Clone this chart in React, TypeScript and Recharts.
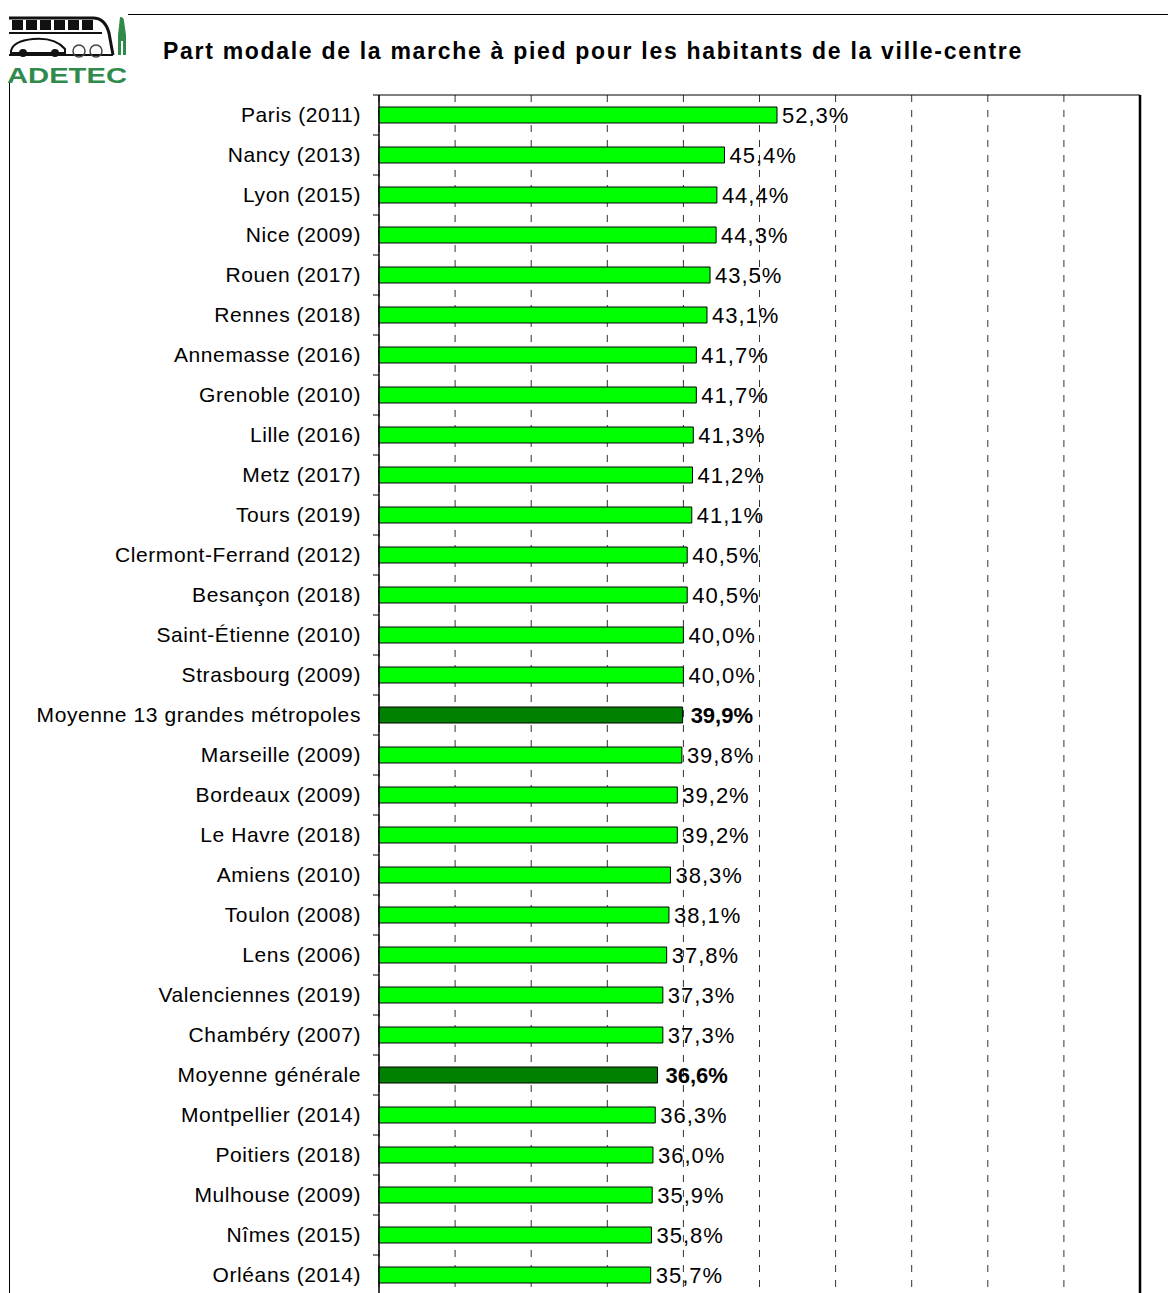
import React from 'react';
import { BarChart, Bar, XAxis, YAxis, CartesianGrid, Cell, ReferenceArea, ReferenceLine } from 'recharts';

// Villes et parts modales (%)
const villes = [
    'Paris (2011)', 'Nancy (2013)', 'Lyon (2015)', 'Nice (2009)', 'Rouen (2017)', 'Rennes (2018)',
    'Annemasse (2016)', 'Grenoble (2010)', 'Lille (2016)', 'Metz (2017)', 'Tours (2019)',
    'Clermont-Ferrand (2012)', 'Besançon (2018)', 'Saint-Étienne (2010)', 'Strasbourg (2009)',
    'Moyenne 13 grandes métropoles', 'Marseille (2009)', 'Bordeaux (2009)', 'Le Havre (2018)',
    'Amiens (2010)', 'Toulon (2008)', 'Lens (2006)', 'Valenciennes (2019)', 'Chambéry (2007)',
    'Moyenne générale', 'Montpellier (2014)', 'Poitiers (2018)', 'Mulhouse (2009)', 'Nîmes (2015)',
    'Orléans (2014)',
];
const parts = [
    52.3, 45.4, 44.4, 44.3, 43.5, 43.1, 41.7, 41.7, 41.3, 41.2, 41.1, 40.5, 40.5, 40.0, 40.0,
    39.9, 39.8, 39.2, 39.2, 38.3, 38.1, 37.8, 37.3, 37.3, 36.6, 36.3, 36.0, 35.9, 35.8, 35.7,
];
const moyennes = ['Moyenne 13 grandes métropoles', 'Moyenne générale'];
const xTicks = [0, 10, 20, 30, 40, 50, 60, 70, 80, 90, 100];

const data = villes.map((ville, i) => ({ ville, part: parts[i] }));

const font = '"Liberation Sans", Arial, sans-serif';

const formatPct = (v: number) => v.toFixed(1).replace('.', ',') + '%';

// label at the centre of the band, tick mark on the band boundary above
const VilleTick = (props: any) => {
    const { x, y, payload } = props;
    return (
        <g>
            <line x1={x + 12} x2={x + 18} y1={y - 20} y2={y - 20} stroke="#000" strokeWidth={1} />
            <text x={x} y={y} dy={7} textAnchor="end" fontSize={21} fontFamily={font} fill="#000" letterSpacing={0.6}>
                {payload.value}
            </text>
        </g>
    );
};

const ValueLabel = (props: any) => {
    const { x, y, width, height, value, index } = props;
    const bold = moyennes.includes(villes[index]);
    return (
        <text x={x + width + (bold ? 8 : 5)} y={y + height / 2} dy={8} fontSize={22} fontFamily={font}
            fontWeight={bold ? 'bold' : 'normal'} fill="#000" letterSpacing={bold ? 0 : 1}>
            {formatPct(value)}
        </text>
    );
};

const Logo = () => (
    <svg width={122} height={72} viewBox="0 0 122 72" style={{ overflow: 'visible' }}>
        <path d="M2 5 H86 Q98 5 102 20 L106 42" fill="none" stroke="#111" strokeWidth={3} />
        <line x1={2} y1={42} x2={106} y2={42} stroke="#111" strokeWidth={2} />
        {[5, 19, 33, 47, 61, 75].map((wx) => (
            <rect key={wx} x={wx} y={7} width={11} height={10} fill="#111" />
        ))}
        <line x1={2} y1={20} x2={95} y2={20} stroke="#111" strokeWidth={2} />
        <path d="M4 38 Q6 28 26 26 Q48 24 58 36 L58 40 H4 Z" fill="#fff" stroke="#111" strokeWidth={2} />
        <circle cx={16} cy={40} r={4} fill="#111" />
        <circle cx={48} cy={40} r={4} fill="#111" />
        <circle cx={72} cy={38} r={6} fill="none" stroke="#444" strokeWidth={1.5} />
        <circle cx={89} cy={38} r={6} fill="none" stroke="#444" strokeWidth={1.5} />
        <path d="M113 4 q4 0 4 4 l2 14 v20 h-3 v-14 h-2 v14 h-3 v-20 z" fill="#2f8a4c" />
        <text x={0} y={70} fontSize={22} fontWeight="bold" fontFamily={font} fill="#2f8a4c"
            textLength={120} lengthAdjust="spacingAndGlyphs">ADETEC</text>
    </svg>
);

const App: React.FC = () => {
    return (
        <div style={{ position: 'absolute', left: 0, top: 0, width: 1168, height: 1293, overflow: 'hidden', background: '#fff', fontFamily: font }}>
            <div style={{ position: 'absolute', left: 7, top: 13 }}>
                <Logo />
            </div>
            <div style={{ position: 'absolute', left: 128, top: 14, width: 1040, height: 1, background: '#000' }} />
            <div style={{ position: 'absolute', left: 9, top: 83, width: 1, height: 1210, background: '#000' }} />
            <div style={{ position: 'absolute', left: 163, top: 38, fontSize: 23, fontWeight: 'bold', color: '#000', whiteSpace: 'nowrap', letterSpacing: 1.7 }}>
                Part modale de la marche à pied pour les habitants de la ville-centre
            </div>
            <div style={{ position: 'absolute', left: 0, top: 0 }}>
                <BarChart width={1168} height={1300} data={data} layout="vertical"
                    margin={{ top: 95, right: 28, bottom: 5, left: 9 }} barCategoryGap={0}>
                    <CartesianGrid horizontal={false} strokeDasharray="7 8" stroke="#333" />
                    <XAxis type="number" domain={[0, 100]} ticks={xTicks} hide />
                    <YAxis type="category" dataKey="ville" width={370} interval={0} tickSize={0} tickMargin={18}
                        axisLine={{ stroke: '#000' }} tick={<VilleTick />} />
                    <ReferenceArea x1={0} x2={100} fill="none" stroke="#000" strokeWidth={1} ifOverflow="visible" />
                    <ReferenceLine x={100} stroke="#000" strokeWidth={2.5} />
                    <Bar dataKey="part" barSize={16} stroke="#000" strokeWidth={1} isAnimationActive={false}
                        label={<ValueLabel />}>
                        {data.map((entry) => (
                            <Cell key={entry.ville} fill={moyennes.includes(entry.ville) ? '#008000' : '#00ff00'} />
                        ))}
                    </Bar>
                </BarChart>
            </div>
        </div>
    );
};

export default App;
